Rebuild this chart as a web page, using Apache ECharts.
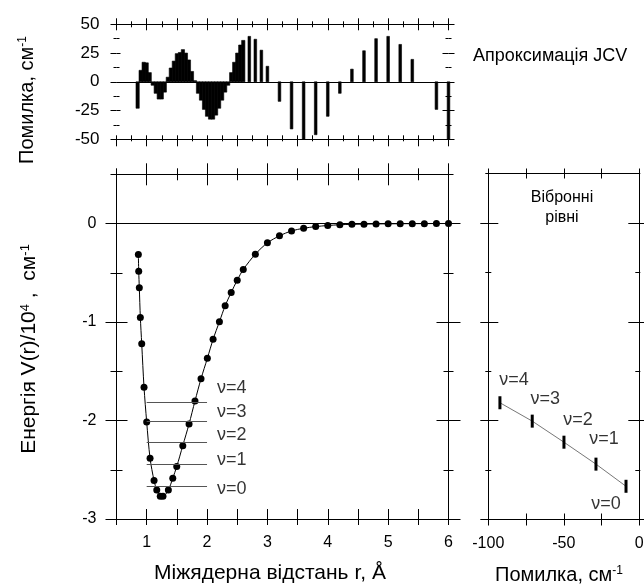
<!DOCTYPE html>
<html><head><meta charset="utf-8">
<script src="https://cdn.jsdelivr.net/npm/echarts@6/dist/echarts.min.js"></script>
<style>html,body{margin:0;padding:0;background:#fff}#c{width:644px;height:586px}</style>
</head><body><div id="c"></div>
<script>
// ---------- data ----------
const denseR = [0.85,0.90,0.95,1.00,1.05,1.10,1.15,1.20,1.25,1.30,1.35,1.40,1.45,1.50,1.55,1.60,1.65,1.70,1.75,1.80,
  1.85,1.90,1.95,2.00,2.05,2.10,2.15,2.20,2.25,2.30,2.35,2.40,2.45,2.50,2.55,2.60];
const denseErr = [-23,10,17,16.5,8,-3,-10,-15,-15,-9,4,12,18,24.5,25.5,28,25,19,9,1,
  -10,-16,-24,-30,-32.5,-32.5,-29,-23,-16,-9,-3,8,17,25,32,36];
const sparseR = [2.70,2.80,2.90,3.00,3.20,3.40,3.60,3.80,4.00,4.20,4.40,4.60,4.80,5.00,5.20,5.40,5.80,6.00];
const sparseErr = [39.5,37,27.5,13.5,-17,-41,-50,-46,-30,-10,11,27,37.5,39.5,32.5,19.5,-24,-50];
const potR = [0.862,0.868,0.878,0.895,0.918,0.956,1.0,1.056,1.122,1.167,1.225,1.27,1.359,1.432,1.498,1.598,1.702,1.80,1.90,2.005,
  2.10,2.205,2.30,2.40,2.50,2.60,2.80,3.0,3.2,3.4,3.6,3.8,4.0,4.2,4.4,4.6,4.8,5.0,5.2,5.4,5.6,5.8,6.0];
const potV = [-0.314,-0.484,-0.653,-0.953,-1.221,-1.663,-2.015,-2.384,-2.61,-2.705,-2.77,-2.77,-2.705,-2.586,-2.468,-2.255,-2.035,-1.802,-1.576,-1.369,
  -1.176,-0.997,-0.835,-0.70,-0.575,-0.467,-0.311,-0.196,-0.125,-0.075,-0.048,-0.031,-0.02,-0.012,-0.008,-0.006,-0.004,-0.003,-0.002,-0.001,-0.001,0,0];
const levelNames = ['ν=0','ν=1','ν=2','ν=3','ν=4'];
const levelV = [-2.664,-2.44,-2.218,-2.005,-1.819];
const levelSpan = [1.0, 2.0];
const devErr = [-8.8,-28.7,-49.9,-70.9,-92.3];
// ---------- ticks ----------
const rLabels = [1,2,3,4,5,6];
const rHalf = [0.5,1,1.5,2,2.5,3,3.5,4,4.5,5,5.5,6];
const rQuarter = [0.75,1.25,1.75,2.25,2.75,3.25,3.75,4.25,4.75,5.25,5.75];
const errLabels = [-50,-25,0,25,50];
const errMinor = [-37.5,-12.5,12.5,37.5];
const vLabels = [-3,-2,-1,0];
const vHalf = [-2.5,-1.5,-0.5,0.5];
const devTicks = [-100,-75,-50,-25,0];
const devLabels = [-100,-50,0];

const FONT = 'Liberation Sans, Arial, sans-serif';
const BLACK = '#000';
const grids = [
  {left:116.5, top:24.3, width:332, height:115},
  {left:116.5, top:174.3, width:332, height:344.7},
  {left:488.3, top:173.5, width:151, height:346}
].map(g => Object.assign({containLabel:false, outerBoundsMode:'none'}, g));

const xAxes = [], yAxes = [];
const rng = {x:[[0.5,6],[0.5,6],[-100,0]], y:[[-50,50],[-3,0.5],[-3,0.5]]};
function baseAxis(dim, grid, pos) {
  const r = rng[dim][grid];
  return {type:'value', gridIndex:grid, position:pos, min:r[0], max:r[1],
    axisLine:{show:false, onZero:false, lineStyle:{color:BLACK, width:1}},
    axisLabel:{show:false}, splitLine:{show:false}, axisTick:{show:false}};
}
function primary(dim, grid, pos, showLine, labels, margin, fs) {
  const a = baseAxis(dim, grid, pos);
  a.axisLine.show = showLine;
  if (labels) a.axisLabel = {show:true, customValues:labels, margin:margin, fontSize:fs || 16, fontFamily:FONT, color:BLACK, showMinLabel:true, showMaxLabel:true};
  (dim === 'x' ? xAxes : yAxes).push(a);
}
function lineAxis(dim, grid, pos) { primary(dim, grid, pos, true, null, 0); }
function ticks(dim, grid, pos, values, lenIn, lenOut) {
  const list = dim === 'x' ? xAxes : yAxes;
  [[true, lenIn],[false, lenOut]].forEach(([inside, len]) => {
    if (len <= 0) return;
    const a = baseAxis(dim, grid, pos);
    a.axisTick = {show:true, inside:inside, length:len, customValues:values, lineStyle:{color:BLACK, width:1}};
    list.push(a);
  });
}
// primary axes (indices 0,1,2 per dim)
primary('x', 0, 'bottom', true, null, 0);
primary('x', 1, 'bottom', true, rLabels, 16);
primary('x', 2, 'bottom', true, devLabels, 16);
primary('y', 0, 'left', false, errLabels, 17, 17);
primary('y', 1, 'left', true, vLabels, 20);
primary('y', 2, 'left', true, null, 0);
// frame lines
lineAxis('x', 0, 'top');
lineAxis('x', 1, 'top'); lineAxis('y', 1, 'right');
lineAxis('x', 2, 'top'); lineAxis('y', 2, 'right');
// ticks: top panel
ticks('x', 0, 'bottom', rHalf, 4, 7); ticks('x', 0, 'bottom', rQuarter, 4, 2);
ticks('x', 0, 'top', rHalf, 6, 6); ticks('x', 0, 'top', rQuarter, 3, 3);
ticks('y', 0, 'left', errLabels, 4, 6); ticks('y', 0, 'left', errMinor, 3, 3);
ticks('y', 0, 'right', errLabels, 6, 6); ticks('y', 0, 'right', errMinor, 3, 3);
// ticks: main panel
ticks('x', 1, 'bottom', rHalf, 10, 6);
ticks('x', 1, 'top', rLabels, 11, 11); ticks('x', 1, 'top', rHalf, 6, 6);
ticks('y', 1, 'left', vLabels, 11, 11); ticks('y', 1, 'left', vHalf, 6, 6);
ticks('y', 1, 'right', vLabels, 12, 12); ticks('y', 1, 'right', vHalf, 5, 5);
// ticks: right panel
ticks('x', 2, 'bottom', devTicks, 6, 6);
ticks('x', 2, 'top', devTicks, 5, 5);
ticks('y', 2, 'left', vLabels, 10, 8); ticks('y', 2, 'left', vHalf, 3, 3);
ticks('y', 2, 'right', vLabels, 11, 5); ticks('y', 2, 'right', vHalf, 4, 1);

const mainLabelDy = [3, -4, -7, -9, -15];
const devLabelOff = [[-20,18],[8,-25],[14,-22],[13,-22],[14,-23]];

// error bars drawn through the axis scales (api.coord); half-width given in data units
function barRender(halfW) {
  return function (params, api) {
    const r = api.value(0), e = api.value(1);
    const a = api.coord([r - halfW, e]);
    const b = api.coord([r + halfW, 0]);
    return {type:'rect', shape:{x: Math.min(a[0], b[0]), y: Math.min(a[1], b[1]),
      width: Math.abs(b[0] - a[0]), height: Math.abs(b[1] - a[1])},
      style:{fill:BLACK, stroke:BLACK, lineWidth:0.6}};
  };
}

const option = {
  animation:false,
  backgroundColor:'#fff',
  grid: grids,
  xAxis: xAxes,
  yAxis: yAxes,
  series: [
    {type:'custom', xAxisIndex:0, yAxisIndex:0, renderItem: barRender(0.027),
      data: denseR.map((r,i) => [r, denseErr[i]]),
      markLine:{silent:true, symbol:['none','none'], label:{show:false},
        lineStyle:{color:BLACK, width:1, type:'solid'}, data:[{yAxis:0}]}},
    {type:'custom', xAxisIndex:0, yAxisIndex:0, renderItem: barRender(0.022),
      data: sparseR.map((r,i) => [r, sparseErr[i]])},
    {type:'line', xAxisIndex:1, yAxisIndex:1, smooth:0.3,
      data: potR.map((r,i) => [r, potV[i]]),
      symbol:'circle', symbolSize:7, itemStyle:{color:BLACK},
      lineStyle:{color:BLACK, width:1},
      markLine:{silent:true, symbol:['none','none'], label:{show:false},
        lineStyle:{color:BLACK, width:1, type:'solid'},
        data:[{yAxis:0, lineStyle:{color:BLACK}}].concat(levelV.map(v => [
          {coord:[levelSpan[0], v], lineStyle:{color:'#555'}}, {coord:[levelSpan[1], v]}]))}},
    {type:'scatter', xAxisIndex:1, yAxisIndex:1, symbolSize:0, silent:true,
      data: levelV.map((v,i) => ({value:[levelSpan[1], v], label:{offset:[0, mainLabelDy[i]]}})),
      label:{show:true, position:'right', distance:10, fontSize:18, fontFamily:FONT, color:BLACK,
        formatter: p => levelNames[p.dataIndex]}},
    {type:'line', xAxisIndex:2, yAxisIndex:2,
      data: devErr.map((e,i) => [e, levelV[i]]),
      symbol:'rect', symbolSize:[3,13], itemStyle:{color:BLACK},
      lineStyle:{color:'#777', width:1}},
    {type:'scatter', xAxisIndex:2, yAxisIndex:2, symbolSize:0, silent:true,
      data: devErr.map((e,i) => ({value:[e, levelV[i]], label:{offset:devLabelOff[i]}})),
      label:{show:true, position:'inside', fontSize:18, fontFamily:FONT, color:BLACK,
        formatter: p => levelNames[p.dataIndex]}}
  ],
  graphic: [
    {type:'text', x:270, y:573, silent:true,
      style:{text:'Міжядерна відстань r, Å', fontSize:21, fontFamily:FONT, fill:BLACK,
        align:'center', verticalAlign:'middle', textAlign:'center', textVerticalAlign:'middle'}},
    {type:'text', x:29, y:349, rotation:Math.PI/2, silent:true,
      style:{text:'{t|Енергія V(r)/10}{s|4}{t| ,  см}{s|-1}', fill:BLACK,
        align:'center', verticalAlign:'middle', textAlign:'center', textVerticalAlign:'middle',
        rich:{t:{fontSize:21, fontFamily:FONT, fill:BLACK}, s:{fontSize:13, fontFamily:FONT, verticalAlign:'top', fill:BLACK}}}},
    {type:'text', x:27, y:100, rotation:Math.PI/2, silent:true,
      style:{text:'{t|Помилка, см}{s|-1}', fill:BLACK,
        align:'center', verticalAlign:'middle', textAlign:'center', textVerticalAlign:'middle',
        rich:{t:{fontSize:20, fontFamily:FONT, fill:BLACK}, s:{fontSize:12, fontFamily:FONT, verticalAlign:'top', fill:BLACK}}}},
    {type:'text', x:473, y:56, silent:true,
      style:{text:'Апроксимація JCV', fontSize:18, fontFamily:FONT, fill:BLACK,
        align:'left', verticalAlign:'middle', textAlign:'left', textVerticalAlign:'middle'}},
    {type:'text', x:562, y:208, silent:true,
      style:{text:'Вібронні\nрівні', fontSize:16, lineHeight:20, fontFamily:FONT, fill:BLACK,
        align:'center', verticalAlign:'middle', textAlign:'center', textVerticalAlign:'middle'}},
    {type:'text', x:495, y:575, silent:true,
      style:{text:'{t|Помилка, см}{s|-1}', fill:BLACK,
        align:'left', verticalAlign:'middle', textAlign:'left', textVerticalAlign:'middle',
        rich:{t:{fontSize:20, fontFamily:FONT, fill:BLACK}, s:{fontSize:12, fontFamily:FONT, verticalAlign:'top', fill:BLACK}}}}
  ]
};
const chart = echarts.init(document.getElementById('c'), null, {renderer:'canvas'});
chart.setOption(option);
</script></body></html>
